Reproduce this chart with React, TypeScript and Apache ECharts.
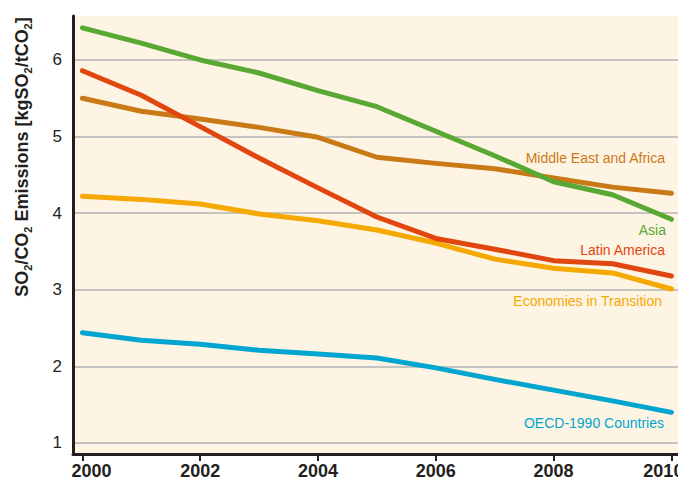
import React, { useEffect, useRef } from "react";
import * as echarts from "echarts";

const years = [2000, 2001, 2002, 2003, 2004, 2005, 2006, 2007, 2008, 2009, 2010];
const asia = [6.42, 6.22, 6.0, 5.83, 5.6, 5.39, 5.07, 4.75, 4.41, 4.24, 3.92];
const latinAmerica = [5.86, 5.54, 5.13, 4.72, 4.33, 3.95, 3.67, 3.53, 3.38, 3.34, 3.18];
const middleEastAfrica = [5.5, 5.33, 5.23, 5.12, 4.99, 4.73, 4.65, 4.58, 4.46, 4.34, 4.26];
const economiesInTransition = [4.22, 4.18, 4.12, 3.99, 3.9, 3.78, 3.61, 3.4, 3.28, 3.22, 3.01];
const oecd1990 = [2.44, 2.34, 2.29, 2.21, 2.16, 2.11, 1.98, 1.83, 1.69, 1.55, 1.4];
const xTicks = [2000, 2002, 2004, 2006, 2008, 2010];
const yTicks = [1, 2, 3, 4, 5, 6];

const seriesDefs = [
  { name: "Middle East and Africa", data: middleEastAfrica, color: "#c97a17" },
  { name: "Economies in Transition", data: economiesInTransition, color: "#f5a800" },
  { name: "OECD-1990 Countries", data: oecd1990, color: "#00a6cf" },
  { name: "Latin America", data: latinAmerica, color: "#e1460f" },
  { name: "Asia", data: asia, color: "#59a833" },
];

const labelDefs = [
  { text: "Middle East and Africa", x: 665, y: 158, color: "#c97a17" },
  { text: "Asia", x: 666, y: 230, color: "#59a833" },
  { text: "Latin America", x: 665, y: 250, color: "#e1460f" },
  { text: "Economies in Transition", x: 662, y: 301, color: "#f5a800" },
  { text: "OECD-1990 Countries", x: 664, y: 423, color: "#00a6cf" },
];

export default function App() {
  const ref = useRef<HTMLDivElement>(null);
  useEffect(() => {
    if (!ref.current) return;
    const chart = echarts.init(ref.current, null, { renderer: "svg" });
    const font = "'Liberation Sans', Arial, sans-serif";
    const firstTick = xTicks[0];
    const lastTick = xTicks[xTicks.length - 1];
    const yMin = 0.856;
    chart.setOption({
      animation: false,
      grid: {
        left: 73,
        right: 4,
        top: 16,
        bottom: 33,
        show: true,
        backgroundColor: "#fef4e3",
        borderWidth: 0,
      },
      xAxis: {
        type: "value",
        min: 1999.84,
        max: 2010.18,
        axisLine: { show: true, lineStyle: { color: "#231f20", width: 3 } },
        axisTick: {
          show: true,
          customValues: xTicks,
          length: 7,
          lineStyle: { color: "#231f20", width: 2 },
        },
        axisLabel: {
          customValues: xTicks.slice(1, -1),
          margin: 8,
          fontFamily: font,
          fontWeight: "bold",
          fontSize: 18,
          color: "#231f20",
          formatter: (v: number) => String(Math.round(v)),
        },
        splitLine: { show: false },
      },
      yAxis: {
        type: "value",
        min: yMin,
        max: 6.574,
        axisLine: { show: true, lineStyle: { color: "#231f20", width: 3 } },
        axisTick: { show: false },
        axisLabel: {
          customValues: yTicks,
          margin: 11,
          fontFamily: font,
          fontSize: 17,
          color: "#231f20",
        },
        splitLine: {
          show: true,
          showMinLine: false,
          showMaxLine: false,
          lineStyle: { color: "#c6c4c0", width: 2 },
        },
      },
      series: seriesDefs.map((s) => ({
        type: "line",
        name: s.name,
        data: years.map((y, i) => [y, s.data[i]]),
        showSymbol: false,
        symbol: "none",
        lineStyle: { color: s.color, width: 5, cap: "round", join: "round" },
        itemStyle: { color: s.color },
        z: 3,
      })),
    });

    const x0 = chart.convertToPixel({ xAxisIndex: 0 }, firstTick) as number;
    const x1 = chart.convertToPixel({ xAxisIndex: 0 }, lastTick) as number;
    const yAxisPix = chart.convertToPixel({ yAxisIndex: 0 }, yMin) as number;
    const edgeLabelStyle = {
      fontFamily: font,
      fontWeight: "bold",
      fontSize: 18,
      fill: "#231f20",
      verticalAlign: "top",
    };

    chart.setOption({
      graphic: [
        {
          type: "text",
          x: 22,
          y: 157,
          rotation: Math.PI / 2,
          style: {
            text: "SO{s|2}/CO{s|2} Emissions [kgSO{s|2}/tCO{s|2}]",
            fontFamily: font,
            fontWeight: "bold",
            fontSize: 18,
            lineHeight: 22,
            fill: "#231f20",
            align: "center",
            verticalAlign: "middle",
            rich: {
              s: {
                fontFamily: font,
                fontWeight: "bold",
                fontSize: 11,
                lineHeight: 11,
                verticalAlign: "bottom",
                fill: "#231f20",
              },
            },
          },
        },
        {
          type: "text",
          x: x0 - 11,
          y: yAxisPix + 8,
          style: { ...edgeLabelStyle, text: String(firstTick), align: "left" },
        },
        {
          type: "text",
          x: x1 + 12,
          y: yAxisPix + 8,
          style: { ...edgeLabelStyle, text: String(lastTick), align: "right" },
        },
        ...labelDefs.map((l) => ({
          type: "text",
          x: l.x,
          y: l.y,
          z: 10,
          style: {
            text: l.text,
            fontFamily: font,
            fontSize: 14,
            fill: l.color,
            align: "right",
            verticalAlign: "middle",
          },
        })),
      ],
    });
    return () => chart.dispose();
  }, []);
  return <div ref={ref} style={{ width: 686, height: 487, margin: -8 }} />;
}
